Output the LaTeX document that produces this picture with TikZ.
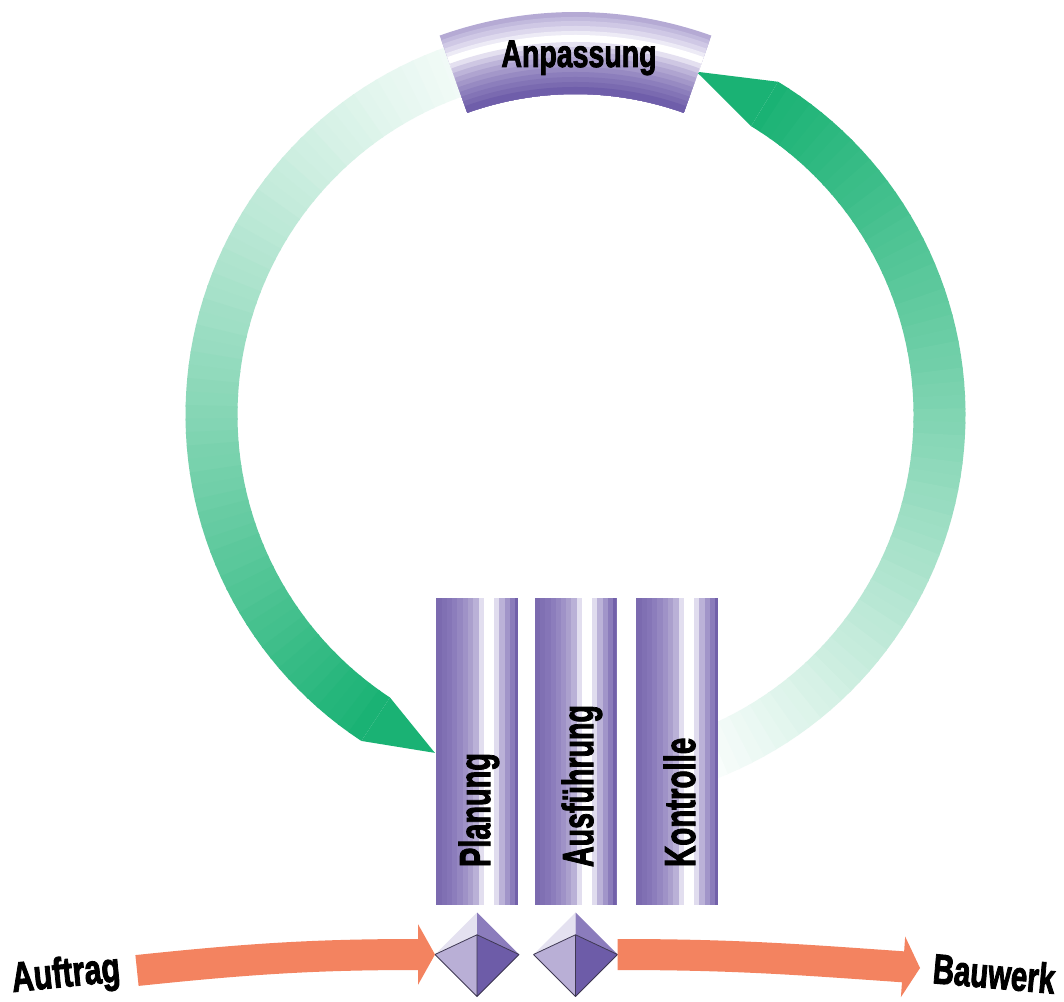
\documentclass[tikz,border=0pt]{standalone}
\usepackage{fontspec}
\usepackage{graphicx}
\usetikzlibrary{calc,arrows.meta,shapes.geometric}
\newfontfamily\lblfont[FakeBold=2.6]{Liberation Sans}

\definecolor{ringgreen}{HTML}{1AB274}
\definecolor{arroworange}{HTML}{F38360}
\definecolor{faceTL}{HTML}{E4E1F0}
\definecolor{faceTR}{HTML}{8B7CBC}
\definecolor{faceBL}{HTML}{B9AFD6}
\definecolor{faceBR}{HTML}{6D5CA8}
\definecolor{gemline}{HTML}{3E3852}

% condensed heavy label text: size, horizontal squeeze, text
\newcommand{\lbltext}[3]{\scalebox{#2}[1]{\lblfont\bfseries\fontsize{#1}{#1}\selectfont #3}}

% shaded faces of a gem node
\newcommand{\gemfaces}[1]{%
  \coordinate (#1-i) at ($(#1.north)!0.53!(#1.center)$);
  \fill[faceTL] (#1.north) -- (#1.west) -- (#1-i) -- cycle;
  \fill[faceTR] (#1.north) -- (#1-i) -- (#1.east) -- cycle;
  \fill[faceBL] (#1.west) -- (#1-i) -- (#1.south) -- cycle;
  \fill[faceBR] (#1-i) -- (#1.east) -- (#1.south) -- cycle;
  \draw[gemline, line width=0.8pt, line join=round]
    (#1.west) -- (#1-i) -- (#1.east) (#1-i) -- (#1.south)
    (#1.west) -- (#1.south) -- (#1.east);
}

\tikzset{
  pillar/.style={minimum width=82pt, minimum height=307pt, inner sep=0pt,
    outer sep=0pt, fill=white,
    path picture={
      \foreach \u/\c in {0/7B6AAF, .073/8070B3, .134/8575B7, .195/8C7DBC,
                         .256/9587C1, .329/9F92C7, .39/ABA0CD, .451/BAB1D7,
                         .524/E2DEEF, .585/FFFFFF, .707/E0DCEE, .768/BBB2D8,
                         .841/A195C9, .902/8B7CBB, .963/7261AA} {
        \definecolor{band}{HTML}{\c}
        \fill[band] ($(path picture bounding box.south west)!\u!(path picture bounding box.south east)$)
          rectangle (path picture bounding box.north east);
      }
    }},
  gem/.style={diamond, minimum width=84pt, minimum height=84pt, aspect=1,
    inner sep=0pt, outer sep=0pt},
  orangearrow/.style={draw=arroworange, line width=31pt,
    -{Triangle[length=17pt, width=60pt]}},
  lbl/.style={inner sep=0pt, outer sep=0pt, text=black}
}

\begin{document}
\begin{tikzpicture}[x=1pt, y=1pt]
\useasboundingbox[fill=white] (0,0) rectangle (1064,1001);
\coordinate (C) at (575.5,586);

% left return arc: pale at the top, full green at its tip
\foreach \i in {0,...,70} {
  \pgfmathsetmacro{\a}{95+\i*141.7/71-0.3}
  \pgfmathsetmacro{\b}{95+(\i+1)*141.7/71}
  \pgfmathtruncatemacro{\p}{round(100*(\i/70)^1.25)}
  \fill[ringgreen!\p!white] ($(C)+(\a:390)$) arc[start angle=\a, end angle=\b, radius=390]
    -- ($(C)+(\b:338)$) arc[start angle=\b, end angle=\a, radius=338] -- cycle;
}
\fill[ringgreen] ($(C)+(236.7:390)$) -- ($(C)+(247.4:366)$) coordinate (ltip)
  -- ($(C)+(236.7:338)$) -- cycle;

% right return arc: full green at its tip, fading out at the bottom
\foreach \i in {0,...,65} {
  \pgfmathsetmacro{\b}{min(58.7, 58.7-\i*2+0.3)}
  \pgfmathsetmacro{\a}{58.7-(\i+1)*2}
  \pgfmathtruncatemacro{\p}{round(100*(1-\i/65))}
  \fill[ringgreen!\p!white] ($(C)+(\a:390)$) arc[start angle=\a, end angle=\b, radius=390]
    -- ($(C)+(\b:338)$) arc[start angle=\b, end angle=\a, radius=338] -- cycle;
}
\fill[ringgreen] ($(C)+(58.7:390)$) -- ($(C)+(70.6:364)$) coordinate (rtip)
  -- ($(C)+(58.7:338)$) -- cycle;

% curved banner with concentric bands
\begin{scope}
  \clip ($(C)+(70.3:403)$) arc[start angle=70.3, end angle=109.7, radius=403]
    -- ($(C)+(109.7:321)$) arc[start angle=109.7, end angle=70.3, radius=321] -- cycle;
  \foreach \r/\c in {403/B5AAD4, 398/C2BADD, 394/CFC8E5, 389/DDD8ED, 384/EDEBF6,
                     380/FFFFFF, 373/E4E0F0, 368/CEC7E3, 363/BDB4D9, 358/AFA4D0,
                     353/A397C9, 348/978AC2, 343/8C7EBC, 338/8374B6, 333/7A6AB0,
                     328/6F5EAA} {
    \definecolor{band}{HTML}{\c}
    \fill[band] (C) circle[radius=\r];
  }
\end{scope}
\node[lbl, anchor=base] (anp) at (579,934) {\lbltext{38.5}{0.74}{Anpassung}};

% the three phase pillars
\node[pillar] (p1) at (477,249.5) {};
\node[pillar] (p2) at (575.5,249.5) {};
\node[pillar] (p3) at (677,249.5) {};
\node[lbl, anchor=base west, rotate=90] (lp1) at (490,134) {\lbltext{43.3}{0.667}{Planung}};
\node[lbl, anchor=base west, rotate=90] (lp2) at (593,134) {\lbltext{43.3}{0.66}{Ausführung}};
\node[lbl, anchor=base west, rotate=90] (lp3) at (695,134) {\lbltext{43.3}{0.68}{Kontrolle}};

% gems below the pillars
\node[gem] (d1) at (477,46.5) {};
\node[gem] (d2) at (575.5,46.5) {};
\gemfaces{d1}
\gemfaces{d2}

% input and output arrows
\node[lbl, anchor=base west, rotate=5.7] (auf) at (13,9) {\lbltext{41.9}{0.73}{Auftrag}};
\node[lbl, anchor=base west, rotate=-5] (bau) at (932,18) {\lbltext{41.9}{0.70}{Bauwerk}};
\coordinate (tailL) at (137,30.5);
\coordinate (tipR) at (920,33);
\draw[orangearrow] (tailL) to[out=6, in=180] (d1.west);
\draw[orangearrow] (d2.east) to[out=0, in=176] (tipR);
\end{tikzpicture}
\end{document}
